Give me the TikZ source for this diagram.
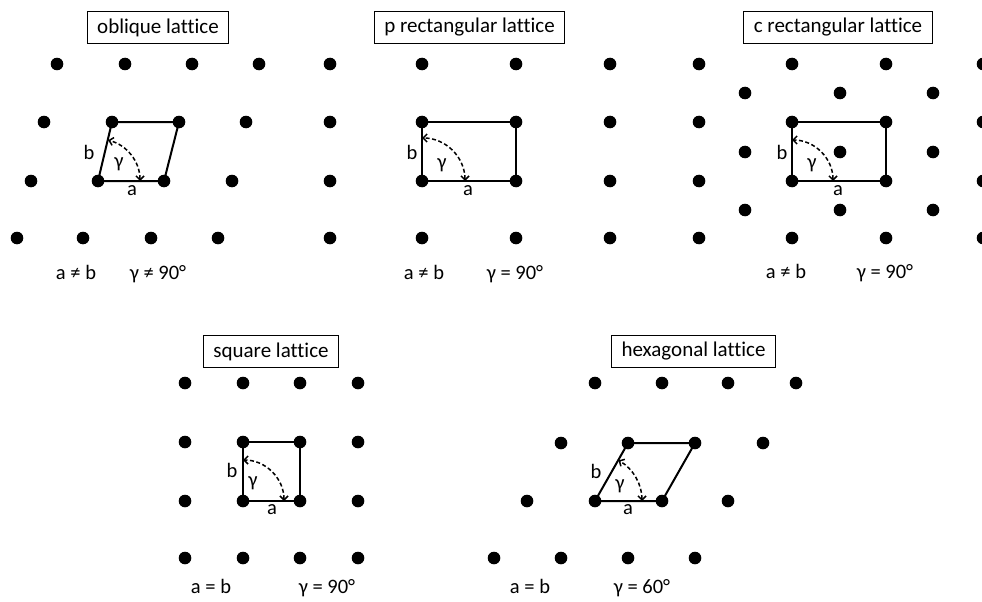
\documentclass[tikz,border=0pt]{standalone}
\usepackage{fontspec}
\setmainfont{Carlito}[Ligatures={NoCommon}]
\usetikzlibrary{arrows.meta}
\tikzset{
  dot/.style={circle,fill=black,inner sep=0pt,minimum size=12.6pt},
  cellline/.style={line width=2pt,line join=miter},
  gam/.style={dashed,dash pattern=on 4pt off 2.5pt,line width=1.5pt,
    arrows={Straight Barb[length=4pt,width=8pt]-Straight Barb[length=4pt,width=8pt]}},
  titlebox/.style={draw,line width=1.2pt,inner xsep=10pt,minimum height=32pt,
    font=\fontsize{21}{25}\selectfont},
  lbl/.style={inner sep=0pt,font=\fontsize{20.5}{24}\selectfont},
  eq/.style={inner sep=0pt,anchor=base,font=\fontsize{20.5}{24}\selectfont},
}
\begin{document}
\begin{tikzpicture}[x=1pt,y=-1pt]
\clip (0,0) rectangle (982,602);
\fill[white] (0,0) rectangle (982,602);

% ---------- oblique ----------
\node[titlebox] (tO) at (158,27.5) {oblique lattice};
\foreach \x [count=\i] in {57,125,192,259,330} \node[dot] (oA\i) at (\x,64) {};
\foreach \x [count=\i] in {44,112,179,246,330} \node[dot] (oB\i) at (\x,122) {};
\foreach \x [count=\i] in {31,98,164,232,330} \node[dot] (oC\i) at (\x,181) {};
\foreach \x [count=\i] in {17,83,151,218,330} \node[dot] (oD\i) at (\x,238) {};
\draw[cellline] (oC2.center) -- (oC3.center) -- (oB3.center) -- (oB2.center) -- cycle;
\draw[gam] ([shift={(0:42)}]oC2.center) arc[start angle=0,end angle=-76,radius=42];
\node[lbl] (oa) at (132,191) {a};
\node[lbl] (ob) at (89,152) {b};
\node[lbl] (og) at (119,164) {γ};
\node[eq] (oe1) at (76,279) {a ≠ b};
\node[eq] (oe2) at (158,279) {γ ≠ 90°};

% ---------- p rectangular ----------
\node[titlebox] (tP) at (469.5,27.5) {p rectangular lattice};
\foreach \y/\r in {64/A,122/B,181/C,238/D}
  \foreach \x [count=\i] in {422,516,610} \node[dot] (p\r\i) at (\x,\y) {};
\draw[cellline] (pC1.center) -- (pC2.center) -- (pB2.center) -- (pB1.center) -- cycle;
\draw[gam] ([shift={(0:43)}]pC1.center) arc[start angle=0,end angle=-90,radius=43];
\node[lbl] (pa) at (468,191) {a};
\node[lbl] (pb) at (412,152) {b};
\node[lbl] (pg) at (442,165) {γ};
\node[eq] (pe1) at (424,279) {a ≠ b};
\node[eq] (pe2) at (515,279) {γ = 90°};

% ---------- c rectangular ----------
\node[titlebox] (tC) at (838,27.5) {c rectangular lattice};
\foreach \y/\r in {64/A,122/C,181/E,238/G}
  \foreach \x [count=\i] in {699,792,886,983} \node[dot] (c\r\i) at (\x,\y) {};
\foreach \y/\r in {93/B,152/D,210/F}
  \foreach \x [count=\i] in {745,840,933} \node[dot] (c\r\i) at (\x,\y) {};
\draw[cellline] (cE2.center) -- (cE3.center) -- (cC3.center) -- (cC2.center) -- cycle;
\draw[gam] ([shift={(0:41)}]cE2.center) arc[start angle=0,end angle=-90,radius=41];
\node[lbl] (ca) at (838,191) {a};
\node[lbl] (cb) at (782,152) {b};
\node[lbl] (cg) at (812,165) {γ};
\node[eq] (ce1) at (786,278) {a ≠ b};
\node[eq] (ce2) at (885,278) {γ = 90°};

% ---------- square ----------
\node[titlebox] (tS) at (271,351.5) {square lattice};
\foreach \y/\r in {383/A,442/B,501/C,558/D}
  \foreach \x [count=\i] in {185,243,300,358} \node[dot] (s\r\i) at (\x,\y) {};
\draw[cellline] (sC2.center) -- (sC3.center) -- (sB3.center) -- (sB2.center) -- cycle;
\draw[gam] ([shift={(0:41)}]sC2.center) arc[start angle=0,end angle=-90,radius=41];
\node[lbl] (sa) at (272,510) {a};
\node[lbl] (sb) at (232,470) {b};
\node[lbl] (sg) at (253,483) {γ};
\node[eq] (se1) at (211,593) {a = b};
\node[eq] (se2) at (327,593) {γ = 90°};

% ---------- hexagonal ----------
\node[titlebox] (tH) at (693.5,351.5) {hexagonal lattice};
\foreach \x [count=\i] in {595,662,728,796} \node[dot] (hA\i) at (\x,383) {};
\foreach \x [count=\i] in {561,628,695,763} \node[dot] (hB\i) at (\x,443) {};
\foreach \x [count=\i] in {527,595,662,728} \node[dot] (hC\i) at (\x,501) {};
\foreach \x [count=\i] in {494,561,628,695} \node[dot] (hD\i) at (\x,558) {};
\draw[cellline] (hC2.center) -- (hC3.center) -- (hB3.center) -- (hB2.center) -- cycle;
\draw[gam] ([shift={(0:47)}]hC2.center) arc[start angle=0,end angle=-60,radius=47];
\node[lbl] (ha) at (628,510) {a};
\node[lbl] (hb) at (596,471) {b};
\node[lbl] (hg) at (620,486) {γ};
\node[eq] (he1) at (530,593) {a = b};
\node[eq] (he2) at (642,593) {γ = 60°};
\end{tikzpicture}
\end{document}
